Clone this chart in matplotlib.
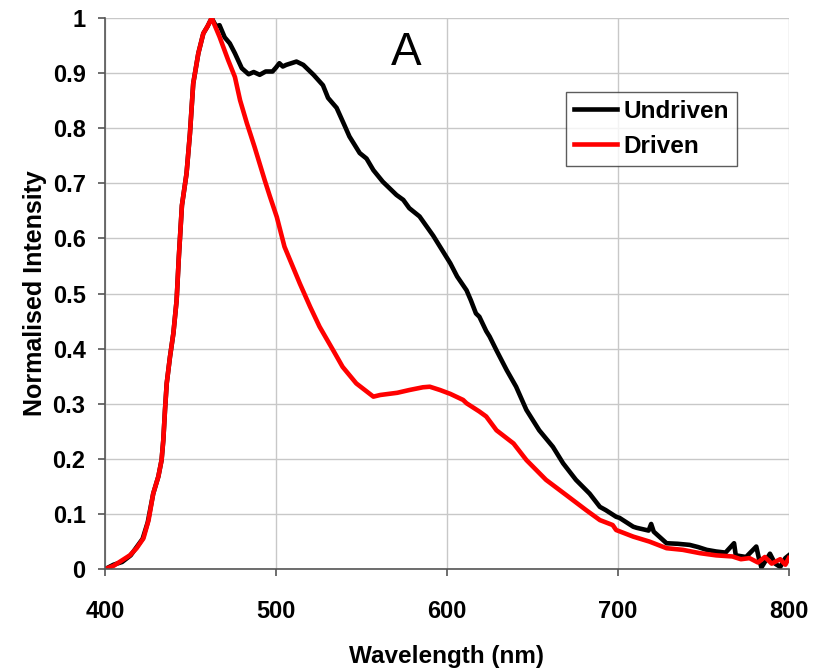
import matplotlib
matplotlib.use("Agg")
import matplotlib.pyplot as plt

# Undriven spectrum (black)
wl_undriven = [400, 405, 410, 415, 418.5, 422, 425, 428.2, 431.2, 433.1, 434.1, 435.1, 436.1, 438,
               440, 441.9, 443.2, 445, 447.7, 449.7, 451.6, 454.6, 457.5, 460, 462.4, 465, 467,
               470, 473, 476, 480, 484, 487, 490.5, 494, 498, 500, 502, 504, 506, 509, 512, 516,
               522, 527.5, 530.5, 535.5, 540, 543, 549, 553, 557, 562.5, 570.5, 574.5, 578, 584,
               592, 600, 602, 606, 611.5, 614, 617, 619, 623, 625, 629, 631, 635, 640.5, 646.5,
               654, 662, 668, 675.5, 683.5, 689.5, 693, 699, 701, 709, 711, 718, 719.5, 721,
               728.5, 735, 742, 747, 752, 757.5, 763, 768, 769, 775, 781, 782.5, 784, 789, 792,
               795, 798, 800]
int_undriven = [0.0, 0.008, 0.013, 0.025, 0.04, 0.055, 0.085, 0.137, 0.168, 0.198, 0.234, 0.289,
                0.337, 0.385, 0.428, 0.488, 0.567, 0.660, 0.718, 0.791, 0.881, 0.936, 0.972,
                0.985, 1.0, 0.985, 0.987, 0.965, 0.954, 0.936, 0.909, 0.898, 0.902, 0.897, 0.903,
                0.903, 0.91, 0.918, 0.912, 0.915, 0.918, 0.921, 0.915, 0.897, 0.878, 0.855,
                0.837, 0.806, 0.785, 0.755, 0.745, 0.724, 0.703, 0.679, 0.670, 0.655, 0.640,
                0.605, 0.565, 0.555, 0.531, 0.506, 0.488, 0.464, 0.458, 0.432, 0.422, 0.397,
                0.385, 0.361, 0.331, 0.289, 0.252, 0.222, 0.192, 0.162, 0.137, 0.113, 0.107,
                0.095, 0.093, 0.077, 0.075, 0.07, 0.082, 0.068, 0.047, 0.046, 0.044, 0.04, 0.035,
                0.032, 0.03, 0.047, 0.025, 0.022, 0.041, 0.02, 0.003, 0.028, 0.01, 0.004, 0.02,
                0.025]

# Driven spectrum (red)
wl_driven = [400, 405, 408.5, 414.5, 418.5, 422.5, 425.5, 428.2, 431.2, 433.1, 434.1, 435.1,
             436.1, 438, 440, 441.9, 443.2, 445, 447.7, 449.7, 451.6, 454.6, 457.5, 460, 462.4,
             467, 472, 476, 479, 483, 485, 487.5, 493.5, 496.5, 500.5, 505, 514, 520, 525.5,
             533.5, 539, 547, 557, 561, 568.5, 571, 578, 586, 590, 596, 602, 609.5, 611.5, 619,
             623, 629, 639, 646.5, 658, 670, 681.5, 689.5, 697, 699, 709, 718.5, 728.5, 738, 748,
             757.5, 767, 772, 777, 782, 786, 790, 795, 798, 800]
int_driven = [0.0, 0.006, 0.013, 0.025, 0.038, 0.056, 0.089, 0.137, 0.168, 0.198, 0.234, 0.289,
              0.337, 0.385, 0.428, 0.488, 0.567, 0.660, 0.718, 0.791, 0.881, 0.936, 0.972, 0.985,
              1.0, 0.966, 0.924, 0.893, 0.851, 0.809, 0.79, 0.766, 0.705, 0.676, 0.639, 0.585,
              0.518, 0.476, 0.440, 0.397, 0.367, 0.337, 0.313, 0.316, 0.319, 0.320, 0.325, 0.330,
              0.331, 0.325, 0.318, 0.307, 0.301, 0.286, 0.277, 0.252, 0.228, 0.198, 0.162, 0.134,
              0.107, 0.089, 0.080, 0.071, 0.059, 0.050, 0.038, 0.035, 0.029, 0.025, 0.023, 0.018,
              0.020, 0.012, 0.022, 0.010, 0.018, 0.008, 0.020]

x_ticks = [400, 500, 600, 700, 800]
y_ticks = [0, 0.1, 0.2, 0.3, 0.4, 0.5, 0.6, 0.7, 0.8, 0.9, 1]
y_tick_labels = ["0", "0.1", "0.2", "0.3", "0.4", "0.5", "0.6", "0.7", "0.8", "0.9", "1"]

plt.rcParams["font.family"] = ["Liberation Sans", "DejaVu Sans"]

fig = plt.figure(figsize=(8.14, 6.68), dpi=100)
ax = fig.add_axes([0.129, 0.148, 0.840, 0.825])

ax.plot(wl_undriven, int_undriven, color="black", lw=3.3, label="Undriven", solid_joinstyle="round")
ax.plot(wl_driven, int_driven, color="#ff0000", lw=3.3, label="Driven", solid_joinstyle="round")

ax.set_xlim(400, 800)
ax.set_ylim(0, 1)
ax.set_xticks(x_ticks)
ax.set_yticks(y_ticks)
ax.set_yticklabels(y_tick_labels)
ax.grid(True, color="#c8c8c8", lw=1.0)
ax.set_axisbelow(True)
for side in ("top", "right"):
    ax.spines[side].set_visible(False)
for side in ("left", "bottom"):
    ax.spines[side].set_color("#555555")
    ax.spines[side].set_linewidth(1.2)
ax.tick_params(direction="out", length=5, width=1.2, color="#555555", labelsize=17)
ax.tick_params(axis="y", pad=9)
ax.tick_params(axis="x", pad=17)
for lab in ax.get_xticklabels() + ax.get_yticklabels():
    lab.set_fontweight("bold")

ax.set_xlabel("Wavelength (nm)", fontsize=17.5, fontweight="bold", labelpad=16)
ax.set_ylabel("Normalised Intensity", fontsize=18, fontweight="bold", labelpad=4)

ax.text(0.44, 0.915, "A", transform=ax.transAxes, fontsize=33, ha="center", va="baseline")

leg = ax.legend(loc="upper right", bbox_to_anchor=(0.924, 0.866), prop={"weight": "bold", "size": 17.5},
                frameon=True, fancybox=False, handlelength=1.8, handletextpad=0.25,
                borderpad=0.32, labelspacing=0.5, borderaxespad=0)
leg.get_frame().set_edgecolor("#333333")
leg.get_frame().set_linewidth(1.0)

fig.savefig("out.png", dpi=100)
